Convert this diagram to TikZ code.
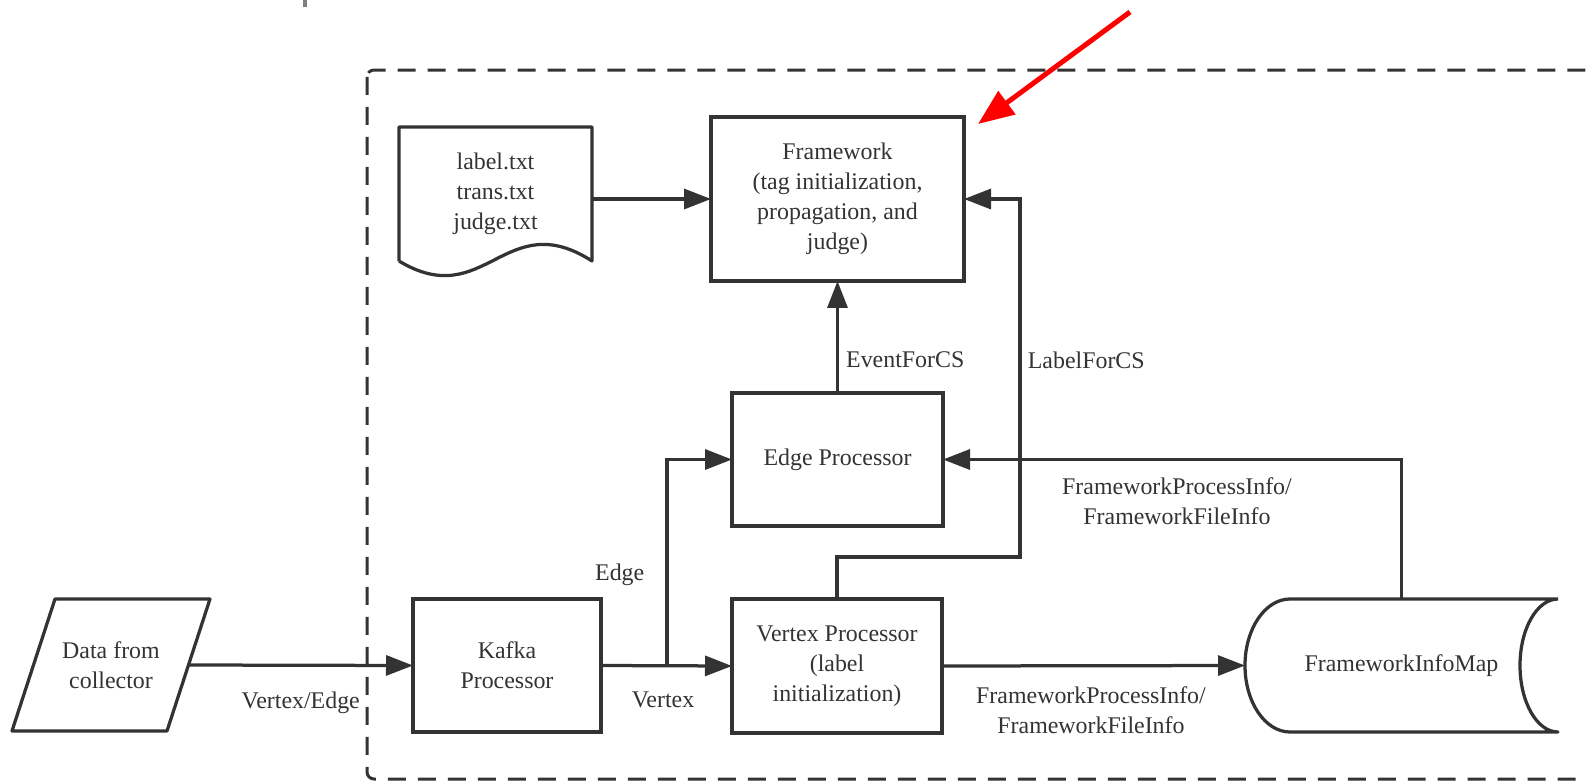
\documentclass[tikz,border=0pt]{standalone}
\usepackage{fontspec}
\setmainfont{Liberation Serif}
\newfontfamily\diagfont{Liberation Serif}
\usepackage{tikz}
\usetikzlibrary{arrows.meta,positioning,calc}
\usepackage{xcolor}
\definecolor{inkgray}{RGB}{51,51,51}

\begin{document}
\begin{tikzpicture}[x=0.02cm,y=-0.02cm,
  proc/.style={draw=inkgray,line width=0.065cm,rectangle,inner sep=0pt,outer sep=0pt,
               align=center,text=inkgray,font=\diagfont\fontsize{13.6}{17}\selectfont},
  shell/.style={rectangle,inner sep=0pt,outer sep=0pt,align=center,text=inkgray,
                font=\diagfont\fontsize{13.6}{17}\selectfont},
  outline/.style={draw=inkgray,line width=0.065cm,line join=round},
  lbl/.style={text=inkgray,align=center,font=\diagfont\fontsize{13.6}{17}\selectfont,inner sep=2pt},
  arr/.style={-{Triangle[length=0.54cm,width=0.4cm]},draw=inkgray,line width=0.065cm},
  redarr/.style={-{Triangle[length=0.72cm,width=0.56cm]},draw=red,line width=0.1cm},
  boundary/.style={draw=inkgray,line width=0.06cm,dash pattern=on 0.36cm off 0.24cm,rounded corners=0.14cm}
]
  \useasboundingbox (0,0) rectangle (1587,781);
  \clip (0,0) rectangle (1587,781);
  % Cut-off title trace
  \fill[gray] (303,0) rectangle (307,7);
  % Outer dashed boundary
  \draw[boundary] (367,70) rectangle (1640,779);
  % Main processors
  \node[proc,minimum width=253*0.02cm,minimum height=164*0.02cm] (fw) at (837.5,199)
    {Framework\\(tag initialization,\\propagation, and\\judge)};
  \node[proc,minimum width=211*0.02cm,minimum height=133*0.02cm] (edge) at (837.5,459.5) {Edge Processor};
  \node[proc,minimum width=210*0.02cm,minimum height=134*0.02cm] (vertex) at (837,666)
    {Vertex Processor\\(label\\initialization)};
  \node[proc,minimum width=188*0.02cm,minimum height=133*0.02cm] (kafka) at (507,665.5) {Kafka\\Processor};
  % Input files (document shape)
  \node[shell,minimum width=193*0.02cm,minimum height=134*0.02cm] (files) at (495.5,194)
    {label.txt\\trans.txt\\judge.txt};
  \draw[outline] (files.south west) -- (files.north west) -- (files.north east) -- (files.south east)
    .. controls (505,205) and (485,313) .. (files.south west);
  % Data source (parallelogram)
  \node[shell,minimum width=155*0.02cm,minimum height=132*0.02cm] (data) at (111,665) {Data from\\collector};
  \draw[outline] ($(data.north east)+(21.5,0)$) -- ($(data.south east)+(-21.5,0)$)
    -- ($(data.south west)+(-21.5,0)$) -- ($(data.north west)+(21.5,0)$) -- cycle;
  % Stored data
  \node[shell,minimum width=313*0.02cm,minimum height=133*0.02cm] (map) at (1401.5,665.5) {FrameworkInfoMap};
  \draw[outline] (map.north east) -- (1290,599)
    .. controls (1265.2,599) and (1245,628.8) .. (map.west)
    .. controls (1245,702.2) and (1265.2,732) .. (1290,732)
    -- (map.south east)
    .. controls (1537,732) and (1520,702.2) .. (1520,665.5)
    .. controls (1520,628.8) and (1537,599) .. (map.north east);
  % Flows
  \coordinate (split) at (667,665.5);
  \coordinate (turn) at (1020,557);
  \draw[arr] (files.east |- fw.west) -- (fw.west);
  \draw[arr] (data.east) -- node[lbl,below=12pt] (vlbl1) {Vertex/Edge} (kafka.west);
  \draw[arr] (kafka.east) -- node[lbl,pos=0.5,below=12pt,xshift=-2pt] (vlbl2) {Vertex} (vertex.west);
  \draw[arr] (split) |- node[lbl,pos=0.22,left=10pt] (elbl) {Edge} (edge.west);
  \draw[arr] (edge.north) -- node[lbl,pos=0.3,right=2pt] (evlbl) {EventForCS} (fw.south);
  \draw[arr] (vertex.north) |- (turn) |- (fw.east);
  \node[lbl,anchor=west] (lclbl) at (1024,360) {LabelForCS};
  \draw[arr] (map.north) |- (edge.east);
  \node[lbl] (inflbl1) at (1177,501) {FrameworkProcessInfo/\\FrameworkFileInfo};
  \draw[arr] (vertex.east) -- (map.west);
  \node[lbl] (inflbl2) at (1091,710) {FrameworkProcessInfo/\\FrameworkFileInfo};
  % Highlight
  \coordinate (hl) at (1130,12);
  \draw[redarr] (hl) -- (978,124);
\end{tikzpicture}
\end{document}
